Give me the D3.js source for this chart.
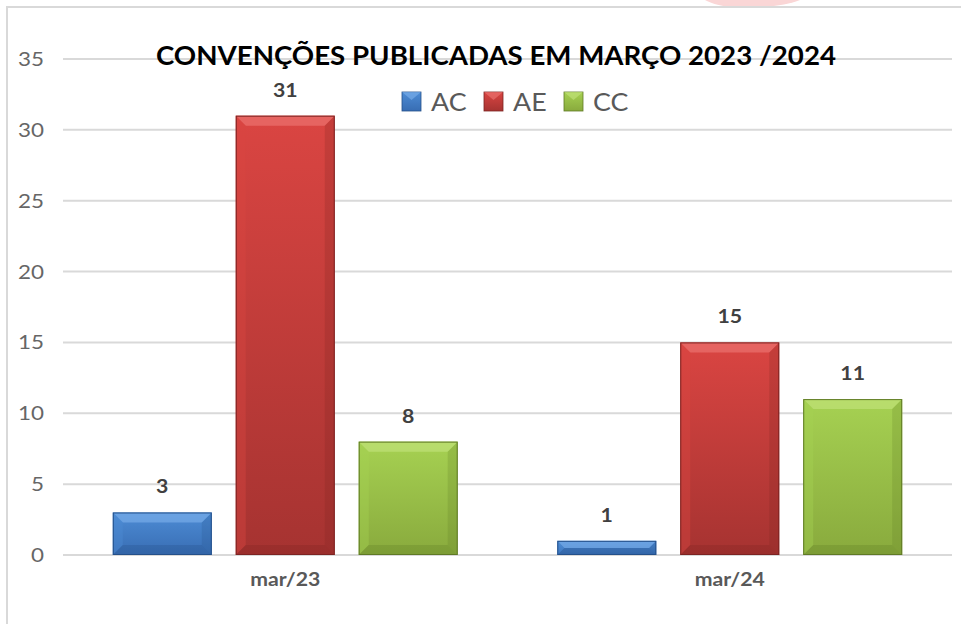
<!DOCTYPE html>
<html>
<head>
<meta charset="utf-8">
<script src="https://cdn.jsdelivr.net/npm/d3@7"></script>
<style>
  body { margin: 0; background: #fff; }
  svg { display: block; font-family: Lato, "Open Sans", sans-serif; }
</style>
</head>
<body>
<div id="chart"></div>
<script>
// --- Daten ---
const months = ["mar/23", "mar/24"];
const seriesNames = ["AC", "AE", "CC"];
const acValues = [3, 1];
const aeValues = [31, 15];
const ccValues = [8, 11];
const yTicks = [0, 5, 10, 15, 20, 25, 30, 35];
const chartTitle = "CONVENÇÕES PUBLICADAS EM MARÇO 2023 /2024";

const seriesValues = { AC: acValues, AE: aeValues, CC: ccValues };

const W = 961, H = 624;
const plot = { left: 63, right: 952, top: 59, bottom: 555 };

// Farben: hell oben, dunkel unten, Kante, Glanz
const colors = {
  AC: { top: "#4d8cd5", bottom: "#386db3", edge: "#24508a", hi: "#7fb2ec" },
  AE: { top: "#da4542", bottom: "#a63331", edge: "#7d2322", hi: "#ef7a77" },
  CC: { top: "#a6d152", bottom: "#89aa3d", edge: "#5f7a25", hi: "#c5e57f" }
};

const svg = d3.select("#chart").append("svg")
  .attr("width", W)
  .attr("height", H);

const defs = svg.append("defs");
seriesNames.forEach(s => {
  const g = defs.append("linearGradient")
    .attr("id", "grad-" + s)
    .attr("x1", 0).attr("y1", 0).attr("x2", 0).attr("y2", 1);
  g.append("stop").attr("offset", "0%").attr("stop-color", colors[s].top);
  g.append("stop").attr("offset", "100%").attr("stop-color", colors[s].bottom);
});

// --- Rahmen + rosa Fleck oben ---
svg.append("path")
  .attr("d", "M705,0 L800,0 C790,4 775,7 755,7 L728,7 C718,5 710,3 705,0 Z")
  .attr("fill", "#fad6d6");
svg.append("path")
  .attr("d", `M7,${H} L7,7 L${W},7`)
  .attr("fill", "none")
  .attr("stroke", "#d9d9d9")
  .attr("stroke-width", 2);

// --- Skalen ---
const y = d3.scaleLinear()
  .domain([0, 35])
  .range([plot.bottom, plot.top]);

const x0 = d3.scaleBand()
  .domain(months)
  .range([plot.left, plot.right]);

const x1 = d3.scaleBand()
  .domain(seriesNames)
  .range([0, x0.bandwidth()])
  .paddingInner(0.195)
  .paddingOuter(0.405);

// Text leicht horizontal strecken (Vorlage wirkt breiter)
function stretch(sel, k) {
  sel.each(function() {
    const len = this.getComputedTextLength();
    d3.select(this).attr("textLength", len * k).attr("lengthAdjust", "spacingAndGlyphs");
  });
}

// --- Gitterlinien ---
svg.append("g")
  .selectAll("line")
  .data(yTicks)
  .join("line")
  .attr("x1", plot.left)
  .attr("x2", plot.right)
  .attr("y1", d => y(d))
  .attr("y2", d => y(d))
  .attr("stroke", "#d9d9d9")
  .attr("stroke-width", 2);

// y-Beschriftung
svg.append("g")
  .selectAll("text")
  .data(yTicks)
  .join("text")
  .attr("x", 44)
  .attr("y", d => y(d) + 7)
  .attr("text-anchor", "end")
  .attr("font-size", "20px")
  .attr("fill", "#666")
  .text(d => d)
  .call(stretch, 1.12);

// --- Balken mit Fase ---
const data = [];
months.forEach((m, i) => {
  seriesNames.forEach(s => data.push({ month: m, series: s, value: seriesValues[s][i] }));
});

const bars = svg.append("g").selectAll("g.bar")
  .data(data)
  .join("g")
  .attr("class", "bar");

bars.each(function(d) {
  const g = d3.select(this);
  const bx = x0(d.month) + x1(d.series);
  const bw = x1.bandwidth();
  const by = y(d.value);
  const bh = y(0) - by;
  const b = Math.min(10, bh / 2);
  const c = colors[d.series];

  g.append("rect")
    .attr("x", bx).attr("y", by)
    .attr("width", bw).attr("height", bh)
    .attr("fill", `url(#grad-${d.series})`);

  // oben hell
  g.append("path")
    .attr("d", `M${bx},${by} L${bx + bw},${by} L${bx + bw - b},${by + b} L${bx + b},${by + b} Z`)
    .attr("fill", c.hi).attr("opacity", 0.6);
  // links
  g.append("path")
    .attr("d", `M${bx},${by} L${bx + b},${by + b} L${bx + b},${by + bh - b} L${bx},${by + bh} Z`)
    .attr("fill", c.top).attr("opacity", 0.4);
  // rechts dunkel
  g.append("path")
    .attr("d", `M${bx + bw},${by} L${bx + bw},${by + bh} L${bx + bw - b},${by + bh - b} L${bx + bw - b},${by + b} Z`)
    .attr("fill", c.edge).attr("opacity", 0.22);
  // unten dunkel
  g.append("path")
    .attr("d", `M${bx},${by + bh} L${bx + bw},${by + bh} L${bx + bw - b},${by + bh - b} L${bx + b},${by + bh - b} Z`)
    .attr("fill", c.edge).attr("opacity", 0.28);

  g.append("rect")
    .attr("x", bx + 0.5).attr("y", by + 0.5)
    .attr("width", bw - 1).attr("height", bh - 1)
    .attr("fill", "none")
    .attr("stroke", c.edge)
    .attr("stroke-width", 1);

  g.append("text")
    .attr("x", bx + bw / 2)
    .attr("y", by - 19)
    .attr("text-anchor", "middle")
    .attr("font-size", "19px")
    .attr("font-weight", "bold")
    .attr("fill", "#404040")
    .text(d.value)
    .call(stretch, 1.12);
});

// x-Beschriftung
svg.append("g")
  .selectAll("text")
  .data(months)
  .join("text")
  .attr("x", d => x0(d) + x0.bandwidth() / 2)
  .attr("y", 586)
  .attr("text-anchor", "middle")
  .attr("font-size", "18px")
  .attr("font-weight", "bold")
  .attr("fill", "#595959")
  .text(d => d)
  .call(stretch, 1.18);

// --- Titel ---
svg.append("text")
  .attr("x", 496)
  .attr("y", 65)
  .attr("text-anchor", "middle")
  .attr("font-size", "27.5px")
  .attr("font-weight", "bold")
  .attr("fill", "#000")
  .attr("textLength", 680)
  .attr("lengthAdjust", "spacingAndGlyphs")
  .text(chartTitle);

// --- Legende ---
const legendX = [402, 484, 564];
const legend = svg.append("g").selectAll("g")
  .data(seriesNames)
  .join("g")
  .attr("transform", (d, i) => `translate(${legendX[i]},92)`);

legend.append("rect")
  .attr("width", 19).attr("height", 19)
  .attr("fill", d => `url(#grad-${d})`)
  .attr("stroke", d => colors[d].edge)
  .attr("stroke-width", 0.8);
legend.append("path")
  .attr("d", "M0,0 L19,0 L9.5,8 Z")
  .attr("fill", d => colors[d].hi)
  .attr("opacity", 0.6);
legend.append("text")
  .attr("x", 29)
  .attr("y", 18.5)
  .attr("font-size", "25.5px")
  .attr("fill", "#595959")
  .text(d => d)
  .call(stretch, 1.05);
</script>
</body>
</html>
